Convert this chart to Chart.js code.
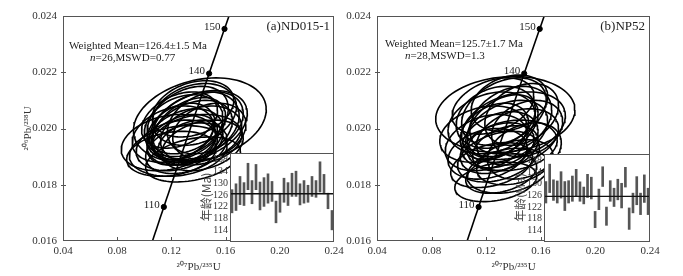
<!DOCTYPE html>
<html><head><meta charset="utf-8">
<script src="https://cdn.jsdelivr.net/npm/chart.js@4.4.1/dist/chart.umd.min.js"></script>
<style>
html,body{margin:0;padding:0;background:#fff}
body{position:relative;width:683px;height:276px;overflow:hidden}
canvas{position:absolute;display:block}
</style></head><body>
<canvas id="mainA" width="350" height="276" style="left:0;top:0;width:350px;height:276px"></canvas>
<canvas id="mainB" width="343" height="276" style="left:340px;top:0;width:343px;height:276px"></canvas>
<canvas id="insetA" width="135" height="92" style="left:199px;top:150px;width:135px;height:92px"></canvas>
<canvas id="insetB" width="137" height="91" style="left:513px;top:151px;width:137px;height:91px"></canvas>
<script>
// ---------- axis ticks ----------
const xTickVals = [0.04, 0.08, 0.12, 0.16, 0.20, 0.24];
const yTickVals = [0.016, 0.018, 0.020, 0.022, 0.024];
const insetTickVals = [114, 118, 122, 126, 130, 134, 138];
const concordiaLabelAges = [110, 140, 150];

// ---------- sample (a) ND015-1 : ellipse centres, 2-sigma half widths, correlation ----------
const aEllX   = [0.141,0.140,0.118,0.136,0.125,0.135,0.130,0.138,0.128,0.142,0.133,0.124,0.145,0.132,0.127,0.139,0.131,0.137,0.121,0.148,0.134,0.129,0.143,0.126,0.136,0.120];
const aEllY   = [0.0203,0.0201,0.0195,0.0189,0.0192,0.0199,0.0197,0.0201,0.0196,0.0198,0.0200,0.0194,0.0202,0.0203,0.0199,0.0196,0.0193,0.0205,0.0198,0.0199,0.0195,0.0201,0.0194,0.0203,0.0207,0.0191];
const aEllSX  = [0.049,0.036,0.035,0.035,0.036,0.030,0.028,0.032,0.026,0.030,0.027,0.030,0.028,0.030,0.025,0.033,0.030,0.031,0.030,0.027,0.024,0.029,0.030,0.028,0.030,0.033];
const aEllSY  = [0.0015,0.00125,0.0010,0.0008,0.0009,0.0011,0.0010,0.0012,0.0009,0.0010,0.0011,0.0009,0.0011,0.0012,0.0010,0.0009,0.0009,0.0011,0.0010,0.0010,0.0008,0.0011,0.0009,0.0010,0.0010,0.0008];
const aEllRho = [0.25,0.35,0.25,0.35,0.20,0.35,0.30,0.30,0.35,0.25,0.40,0.25,0.30,0.35,0.30,0.20,0.35,0.25,0.30,0.25,0.35,0.25,0.30,0.35,0.30,0.25];
// inset ages (Ma): upper and lower ends of each bar
const aAgeHigh = [127.8,129.8,132.3,130.2,136.8,130.9,136.4,130.4,131.9,133.2,130.6,123.9,126.6,131.7,130.2,133.4,134.1,129.8,130.9,129.3,132.3,130.9,137.3,133.0,126.6,120.7];
const aAgeLow  = [119.9,120.7,122.7,122.4,127.8,123.0,127.8,120.9,122.1,123.2,123.8,116.5,120.1,123.5,122.4,125.5,125.5,122.6,123.2,123.5,125.5,125.2,127.0,126.4,121.3,114.1];
const aMean = 126.4;

// ---------- sample (b) NP52 ----------
const bEllX   = [0.134,0.140,0.148,0.127,0.131,0.124,0.118,0.124,0.135,0.130,0.138,0.128,0.143,0.132,0.121,0.146,0.133,0.126,0.139,0.129,0.137,0.120,0.150,0.134,0.127,0.141,0.125,0.136];
const bEllY   = [0.0205,0.0201,0.0192,0.0181,0.0184,0.0187,0.0198,0.0202,0.0199,0.0196,0.0203,0.0193,0.0197,0.0201,0.0191,0.0205,0.0206,0.0199,0.0194,0.0190,0.0209,0.0195,0.0200,0.0193,0.0204,0.0188,0.0208,0.0185];
const bEllSX  = [0.051,0.038,0.027,0.030,0.026,0.030,0.032,0.032,0.030,0.028,0.030,0.027,0.030,0.026,0.029,0.027,0.031,0.025,0.033,0.030,0.028,0.030,0.026,0.024,0.029,0.028,0.030,0.030];
const bEllSY  = [0.00135,0.0012,0.0010,0.0007,0.0007,0.0008,0.0010,0.0011,0.0011,0.0010,0.0012,0.0009,0.0010,0.0011,0.0009,0.0011,0.0012,0.0010,0.0009,0.0009,0.0010,0.0010,0.0010,0.0008,0.0011,0.0008,0.0010,0.0008];
const bEllRho = [0.12,0.30,0.30,0.30,0.35,0.35,0.25,0.25,0.35,0.30,0.30,0.35,0.30,0.40,0.25,0.30,0.35,0.30,0.20,0.35,0.25,0.30,0.25,0.35,0.25,0.30,0.35,0.25];
const bAgeHigh = [130.8,136.8,131.4,131.0,134.2,130.8,131.1,132.7,135.0,130.7,128.9,133.3,132.3,120.5,128.2,135.9,122.0,131.1,128.5,131.6,130.2,135.7,121.7,126.8,132.5,126.8,133.1,128.5];
const bAgeLow  = [123.4,127.0,124.3,123.4,125.1,120.8,123.4,124.0,125.7,124.0,123.1,125.3,124.8,114.9,121.1,129.1,115.7,124.0,122.2,124.5,121.7,128.9,114.3,120.0,122.8,119.4,123.6,119.4];
const bMean = 125.7;

// ---------- helpers ----------
const L238 = 1.55125e-10, L235 = 9.8485e-10;
function concordia(ageMa){ return {x: Math.exp(L235*ageMa*1e6)-1, y: Math.exp(L238*ageMa*1e6)-1}; }
function concordiaCurve(){ const p=[]; for(let a=95;a<=165;a+=1) p.push(concordia(a)); return p; }
function ellipsePts(cx, cy, sx, sy, rho){
  const pts=[], k=Math.sqrt(1-rho*rho);
  for(let i=0;i<=90;i++){ const t=i/90*2*Math.PI; pts.push({x:cx+sx*Math.cos(t), y:cy+sy*(rho*Math.cos(t)+k*Math.sin(t))}); }
  return pts;
}
const SERIF = "'Liberation Serif','Times New Roman',serif";
Chart.defaults.font.family = SERIF;
Chart.defaults.color = '#333';

const framePlugin = {
  id:'frame',
  afterDatasetsDraw(chart){
    const {ctx, chartArea:a, scales} = chart;
    ctx.save();
    ctx.strokeStyle='#555'; ctx.lineWidth=1;
    ctx.beginPath();
    scales.x.ticks.forEach(t=>{ const px=Math.round(scales.x.getPixelForValue(t.value))+0.5; if(px>a.left+2&&px<a.right-2){ctx.moveTo(px,a.bottom); ctx.lineTo(px,a.bottom-4);} });
    scales.y.ticks.forEach(t=>{ const py=Math.round(scales.y.getPixelForValue(t.value))+0.5; if(py>a.top+2&&py<a.bottom-2){ctx.moveTo(a.left-2,py); ctx.lineTo(a.left+3,py);} });
    ctx.stroke();
    ctx.strokeRect(Math.round(a.left)+0.5, Math.round(a.top)+0.5, Math.round(a.right-a.left)-1, Math.round(a.bottom-a.top)-1);
    ctx.restore();
  }
};

function annotPlugin(cfg){
  return {
    id:'annot',
    afterDraw(chart){
      const {ctx, scales} = chart;
      ctx.save();
      ctx.fillStyle='#222';
      ctx.textBaseline='middle';
      ctx.font = '11px '+SERIF;
      concordiaLabelAges.forEach(a=>{
        const p=concordia(a);
        const px=scales.x.getPixelForValue(p.x), py=scales.y.getPixelForValue(p.y);
        ctx.textAlign='right';
        ctx.fillText(String(a), px-4, py-2);
      });
      ctx.textAlign='left';
      ctx.fillText(cfg.wm, cfg.wmX, cfg.wmY);
      ctx.font = 'italic 11px '+SERIF;
      ctx.fillText('n', cfg.nX, cfg.nY);
      const w = ctx.measureText('n').width;
      ctx.font = '11px '+SERIF;
      ctx.fillText(cfg.stat, cfg.nX+w, cfg.nY);
      ctx.font = '13px '+SERIF;
      ctx.textAlign='right';
      ctx.fillText(cfg.name, cfg.nameX, cfg.nameY);
      ctx.restore();
    }
  };
}

function makeMain(id, cfg){
  const datasets=[];
  datasets.push({data: concordiaCurve(), showLine:true, borderColor:'#000', borderWidth:1.6, pointRadius:0, order:1});
  datasets.push({data: concordiaLabelAges.map(concordia), showLine:false, pointRadius:2.6, backgroundColor:'#000', borderColor:'#000', order:0});
  cfg.ex.forEach((cx,i)=>{
    datasets.push({data: ellipsePts(cx, cfg.ey[i], cfg.esx[i], cfg.esy[i], cfg.erho[i]), showLine:true, borderColor:'#000', borderWidth:1.6, pointRadius:0, order:2});
  });
  new Chart(document.getElementById(id), {
    type:'scatter',
    data:{datasets},
    options:{
      responsive:false, animation:false, devicePixelRatio:1,
      layout:{padding:cfg.padding},
      plugins:{legend:{display:false}, tooltip:{enabled:false}},
      scales:{
        x:{type:'linear', min:0.04, max:0.24,
           afterBuildTicks:s=>{s.ticks=xTickVals.map(v=>({value:v}));},
           afterFit:s=>{s.height=35; s.paddingLeft=0; s.paddingRight=0;},
           grid:{display:false, drawTicks:false}, border:{display:false},
           ticks:{padding:4, color:'#333', font:{size:11}, maxRotation:0, autoSkip:false, callback:v=>Number(v).toFixed(2)},
           title:{display:true, text:'²⁰⁷Pb/²³⁵U', padding:{top:0,bottom:2}, font:{size:11}, color:'#333'}},
        y:{type:'linear', min:0.016, max:0.024,
           afterBuildTicks:s=>{s.ticks=yTickVals.map(v=>({value:v}));},
           afterFit:s=>{s.width=cfg.yw; s.paddingTop=0; s.paddingBottom=0;},
           grid:{display:false, drawTicks:false}, border:{display:false},
           ticks:{padding:6, color:'#333', font:{size:11}, autoSkip:false, callback:v=>Number(v).toFixed(3)},
           title:{display:cfg.showYTitle, text:'²⁰⁶Pb/²³⁸U', padding:{top:22,bottom:0}, font:{size:11}, color:'#333'}}
      }
    },
    plugins:[framePlugin, annotPlugin(cfg)]
  });
}

const insetBg = {id:'insetBg', beforeDraw(chart){ const {ctx, chartArea:a}=chart; ctx.save(); ctx.fillStyle='#fff'; ctx.fillRect(a.left,a.top,a.right-a.left,a.bottom-a.top); ctx.restore(); }};
function meanPlugin(mean){
  return {id:'meanLine', afterDatasetsDraw(chart){
    const {ctx, chartArea:a, scales}=chart;
    const py=scales.y.getPixelForValue(mean);
    ctx.save();
    ctx.strokeStyle='#111'; ctx.lineWidth=1.4;
    ctx.beginPath(); ctx.moveTo(a.left,py); ctx.lineTo(a.right,py); ctx.stroke();
    ctx.strokeStyle='#555'; ctx.lineWidth=1;
    ctx.strokeRect(Math.round(a.left)+0.5, Math.round(a.top)+0.5, Math.round(a.right-a.left)-1, Math.round(a.bottom-a.top));
    ctx.restore();
  }};
}
function makeInset(id, low, high, mean){
  new Chart(document.getElementById(id), {
    type:'bar',
    data:{labels: low.map((_,i)=>String(i+1)),
          datasets:[{data: low.map((l,i)=>[l, high[i]]), backgroundColor:'#555', borderWidth:0, barThickness:2, borderSkipped:false}]},
    options:{
      responsive:false, animation:false, devicePixelRatio:1,
      layout:{padding:{left:0, top:3, right:0, bottom:1}},
      plugins:{legend:{display:false}, tooltip:{enabled:false}},
      scales:{
        x:{display:false, offset:true, grid:{display:false}, afterFit:s=>{s.paddingLeft=0; s.paddingRight=0;}},
        y:{min:110.3, max:140.3,
           afterBuildTicks:s=>{s.ticks=insetTickVals.map(v=>({value:v}));},
           afterFit:s=>{s.width=31; s.paddingTop=0; s.paddingBottom=0;},
           grid:{display:false, drawTicks:false}, border:{display:false},
           ticks:{padding:2, color:'#333', font:{size:10}, autoSkip:false},
           title:{display:true, text:'年龄(Ma)', padding:0, font:{size:12, family:"'Noto Sans CJK SC','Liberation Serif',serif"}, color:'#444'}}
      }
    },
    plugins:[insetBg, meanPlugin(mean)]
  });
}

makeMain('mainA', {ex:aEllX, ey:aEllY, esx:aEllSX, esy:aEllSY, erho:aEllRho,
  padding:{left:0, top:16, right:16, bottom:0}, yw:63, showYTitle:true,
  wm:'Weighted Mean=126.4±1.5 Ma', wmX:69, wmY:46, stat:'=26,MSWD=0.77', nX:90, nY:58,
  name:'(a)ND015-1', nameX:330, nameY:27});
makeMain('mainB', {ex:bEllX, ey:bEllY, esx:bEllSX, esy:bEllSY, erho:bEllRho,
  padding:{left:0, top:16, right:33, bottom:0}, yw:37, showYTitle:false,
  wm:'Weighted Mean=125.7±1.7 Ma', wmX:45, wmY:44, stat:'=28,MSWD=1.3', nX:65, nY:56,
  name:'(b)NP52', nameX:305, nameY:27});
makeInset('insetA', aAgeLow, aAgeHigh, aMean);
makeInset('insetB', bAgeLow, bAgeHigh, bMean);
</script>
</body></html>
